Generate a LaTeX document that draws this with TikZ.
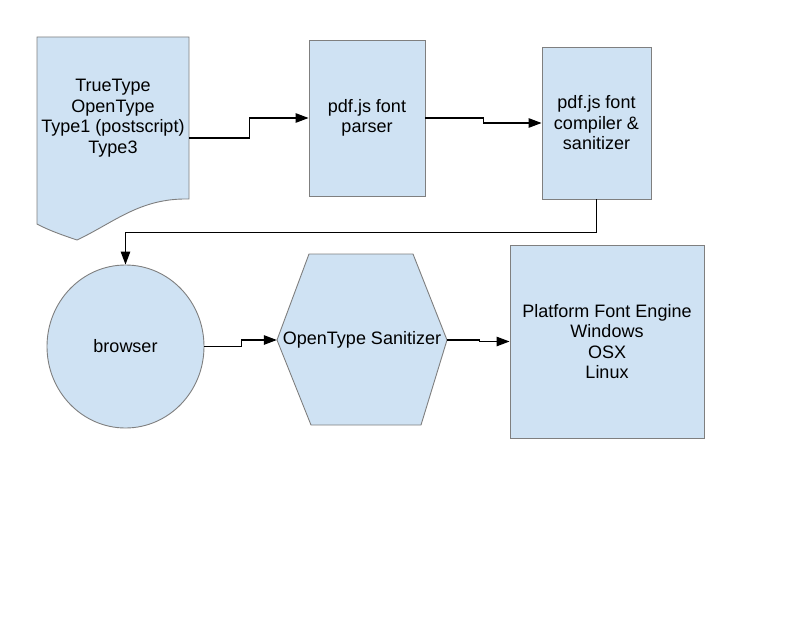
\documentclass[tikz,border=0pt]{standalone}
\usepackage{fontspec}
\setmainfont{Liberation Sans}
\usetikzlibrary{arrows.meta,shapes.geometric}
\definecolor{boxfill}{HTML}{CFE2F3}
\definecolor{boxline}{HTML}{7F7F7F}
\begin{document}
\begin{tikzpicture}[x=1pt,y=-1pt,
  shapebox/.style={draw=boxline,fill=boxfill,line width=0.9pt,rectangle,inner sep=0pt,align=center,font=\fontsize{18}{20.5}\selectfont},
  textonly/.style={draw=none,inner sep=0pt,align=center,font=\fontsize{18}{20.5}\selectfont},
  conn/.style={draw=black,line width=1.2pt,-{Triangle[length=13pt,width=9.5pt]}}]
\useasboundingbox (0,0) rectangle (800,618);
% document shape
\path[draw=boxline,fill=boxfill,line width=0.9pt]
  (37,37) -- (189,37) -- (189,199)
  .. controls (140,198) and (115,222) .. (77,240)
  .. controls (62,235) and (48,230) .. (37,224) -- cycle;
\node[textonly,minimum width=152pt,minimum height=162pt] (doc) at (113,118)
  {TrueType\\OpenType\\Type1 (postscript)\\Type3};
% boxes
\node[shapebox,minimum width=116pt,minimum height=156pt] (parser) at (367,118)
  {pdf.js font\\parser};
\node[shapebox,minimum width=109pt,minimum height=152pt] (compiler) at (596.5,123)
  {pdf.js font\\compiler \&\\sanitizer};
\node[shapebox,ellipse,minimum width=157pt,minimum height=163pt] (browser) at (125.5,346.5)
  {browser};
% hexagon
\path[draw=boxline,fill=boxfill,line width=0.9pt]
  (309,254) -- (413,254) -- (447,340) -- (421,425) -- (311,425) -- (277,340) -- cycle;
\node[textonly,minimum width=170pt,minimum height=171pt] (hex) at (362,340)
  {OpenType Sanitizer};
\node[shapebox,minimum width=194pt,minimum height=193pt] (platform) at (607,341.5)
  {Platform Font Engine\\Windows\\OSX\\Linux};
% connectors
\draw[conn] ([yshift=-20pt]doc.east) -- ++(60,0) |- (parser.west);
\draw[conn] (parser.east) -- ++(58,0) |- (compiler.west);
\draw[conn] (compiler.south) -- ++(0,33) -| (browser.north);
\draw[conn] (browser.east) -- ++(37,0) |- (hex.west);
\draw[conn] (hex.east) -- ++(32,0) |- (platform.west);
\end{tikzpicture}
\end{document}
